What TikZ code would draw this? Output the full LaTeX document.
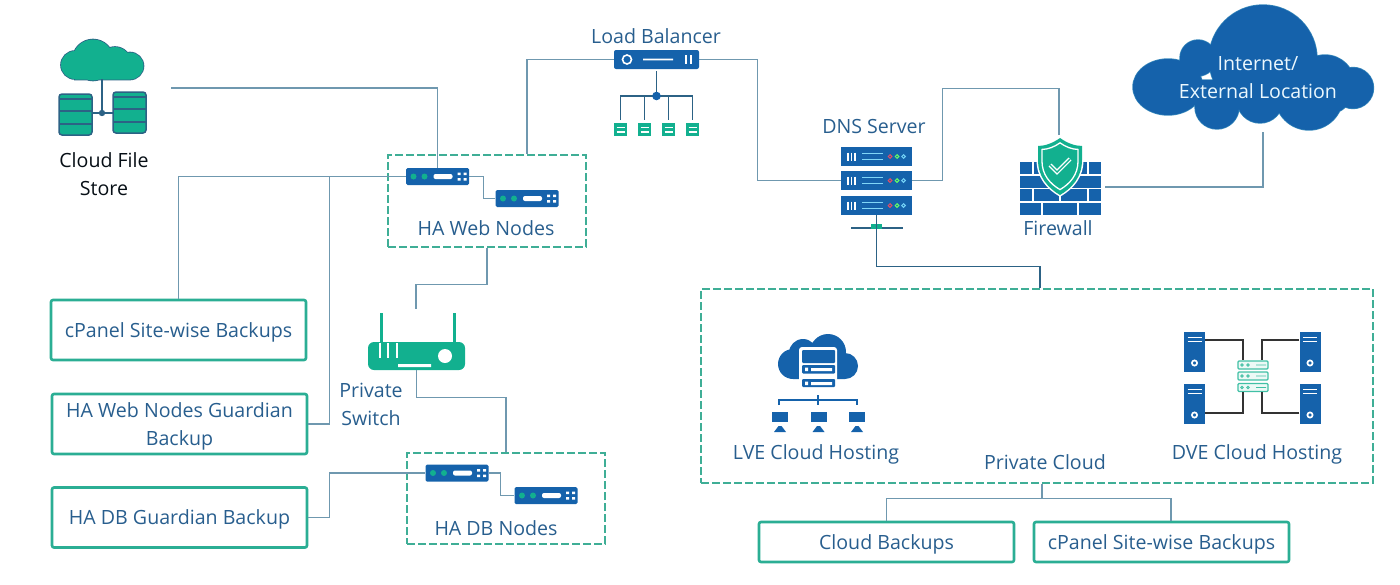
\documentclass[tikz,border=0pt]{standalone}
\usepackage{fontspec}
\setmainfont{Open Sans}
\definecolor{iconblue}{HTML}{1562AB}
\definecolor{icongreen}{HTML}{12B08F}
\definecolor{boxgreen}{HTML}{2BAE94}
\definecolor{dashgreen}{HTML}{3FAE96}
\definecolor{linkgrey}{HTML}{6F98AF}
\definecolor{linkdark}{HTML}{2C6285}
\definecolor{labelblue}{HTML}{285E8E}
\tikzset{
  lbl/.style = {text = labelblue, font = \fontsize{19.6}{28}\selectfont, align = center, inner sep = 0pt},
  link/.style = {draw = linkgrey, line width = 1.2pt},
  darklink/.style = {draw = linkdark, line width = 1.2pt},
  dashbox/.style = {draw = dashgreen, line width = 1.6pt, dash pattern = on 8pt off 3pt, inner sep = 0pt},
  greenbox/.style = {lbl, draw = boxgreen, line width = 2.6pt, rounded corners = 2pt, minimum height = 60pt, text depth = 0pt},
  rackbody/.style = {fill = iconblue, rounded corners = 1.5pt, minimum width = 63pt, minimum height = 17pt, inner sep = 0pt},
  dnsbody/.style = {fill = iconblue, minimum width = 71pt, minimum height = 19pt, inner sep = 0pt},
  tower/.style = {fill = iconblue, minimum width = 21pt, minimum height = 40pt, inner sep = 0pt},
}
\begin{document}
\begin{tikzpicture}[x = 1pt, y = -1pt]
  \useasboundingbox (0,0) rectangle (1400,584);

  % file store
  \def\filecloud{(93,60) circle (20.5) (75,65) circle (14) (130,66) circle (13.5) (115,63) circle (16) (130,60) rectangle (75,79.5)}
  \draw[linkdark, line width = 1.6pt] \filecloud;
  \fill[icongreen] \filecloud;
  \draw[linkdark, line width = 1.6pt] (102,79) -- (102,113) (92,113) -- (113,113);
  \fill[linkdark] (102,113) circle (3.2);
  \foreach \x/\y in {59/94, 113/92} {
    \fill[icongreen, draw = linkdark, line width = 1.5pt, rounded corners = 3pt] (\x,\y) rectangle (\x+33,\y+41);
    \draw[linkdark, line width = 2.4pt] (\x,\y+5) -- (\x+33,\y+5) (\x,\y+17) -- (\x+33,\y+17) (\x,\y+30) -- (\x+33,\y+30);
  }
  \node[lbl, text = black!85!labelblue] (filestore) at (104,174) {Cloud File\\Store};
  \coordinate (filestoreout) at (171,88);

  % boxes
  \node[dashbox, minimum width = 198pt, minimum height = 92pt] (webbox) at (487,201) {};
  \node[dashbox, minimum width = 198pt, minimum height = 91pt] (dbbox) at (506,498.5) {};
  \node[dashbox, minimum width = 672pt, minimum height = 194pt] (cloudbox) at (1037,386) {};
  \node[lbl] (weblabel) at (486,228) {HA Web Nodes};
  \node[lbl] (dblabel) at (496,528) {HA DB Nodes};
  \node[lbl] (cloudlabel) at (1045,462) {Private Cloud};

  \node[greenbox, minimum width = 255pt] (sitewise) at (178.5,330) {cPanel Site-wise Backups};
  \node[greenbox, minimum width = 255pt] (webguard) at (179.5,424) {HA Web Nodes Guardian\\Backup};
  \node[greenbox, minimum width = 255pt] (dbguard) at (179.5,517.5) {HA DB Guardian Backup};
  \node[greenbox, minimum width = 255pt, minimum height = 40pt] (cloudbak) at (886.5,542) {Cloud Backups};
  \node[greenbox, minimum width = 255pt, minimum height = 40pt] (sitewisetwo) at (1161.5,542) {cPanel Site-wise Backups};

  % ha nodes
  \foreach \name/\x/\y in {web1/437.5/176.5, web2/527/198.5, db1/457/473, db2/546/495.5} {
    \node[rackbody] (\name) at (\x,\y) {};
    \fill[icongreen] (\x-24,\y) circle (3) (\x-13,\y) circle (3);
    \fill[white, rounded corners = 2pt] (\x-4,\y-2.5) rectangle (\x+15,\y+2.5);
    \fill[white] (\x+20,\y-4) rectangle (\x+23,\y-1.5) (\x+26,\y-4) rectangle (\x+29,\y-1.5)
                 (\x+20,\y+1.5) rectangle (\x+23,\y+4) (\x+26,\y+1.5) rectangle (\x+29,\y+4);
  }

  % load balancer
  \node[lbl] (lblabel) at (656,36) {Load Balancer};
  \node[fill = iconblue, rounded corners = 2pt, minimum width = 85pt, minimum height = 19pt, inner sep = 0pt] (lb) at (656.5,59.5) {};
  \draw[white, line width = 1.6pt] (627,59.5) circle (4.5) (643,59.5) -- (673,59.5);
  \draw[white, line width = 1.8pt] (686,55) -- (686,64) (691,55) -- (691,64);
  \draw[linkdark, line width = 1.5pt] (656.5,71) -- (656.5,96) (620.5,120) -- (620.5,96) -- (692.5,96) -- (692.5,120)
    (644.5,96) -- (644.5,120) (668.5,96) -- (668.5,120);
  \fill[iconblue] (656.5,96) circle (4.3);
  \foreach \x in {620.5, 644.5, 668.5, 692.5} {
    \fill[icongreen] (\x-6.5,123) rectangle (\x+6.5,136);
    \draw[white, line width = 1.5pt] (\x-4,127.5) -- (\x+4,127.5) (\x-4,132) -- (\x+4,132);
  }

  % dns
  \node[lbl] (dnslabel) at (874,126) {DNS Server};
  \foreach \name/\y in {dns1/156.5, dns2/180.5, dns3/205.5} {
    \node[dnsbody] (\name) at (876.5,\y) {};
    \draw[white, line width = 1.2pt] (848,\y-4) -- (848,\y+4) (851.5,\y-4) -- (851.5,\y+4) (855,\y-4) -- (855,\y+4);
    \draw[cyan!50, line width = 1pt] (862,\y-3) -- (883,\y-3) (862,\y+3) -- (883,\y+3);
    \draw[red!50!purple!70, line width = 1pt] (890,\y) circle (1.8);
    \draw[green!60!white, line width = 1pt] (897,\y) circle (1.8);
    \draw[cyan!55, line width = 1pt] (903.5,\y) circle (1.8);
  }
  \draw[linkdark, line width = 1.3pt] (851,228) -- (903,228);
  \node[fill = icongreen, minimum width = 11pt, minimum height = 5pt, inner sep = 0pt] (dnstap) at (876.5,226.5) {};

  % firewall
  \fill[iconblue] (1020,162) rectangle (1101,215);
  \draw[white, line width = 1.4pt] (1020,175) -- (1101,175) (1020,188.5) -- (1101,188.5) (1020,202) -- (1101,202)
    (1033,162) -- (1033,175) (1088,162) -- (1088,175) (1033,188.5) -- (1033,202) (1060,188.5) -- (1060,202) (1088,188.5) -- (1088,202)
    (1042,202) -- (1042,215) (1078,202) -- (1078,215);
  \def\shieldpath{(1060,138) .. controls (1067,143) and (1075,146) .. (1082,146) -- (1082,160) .. controls (1082,177) and (1072,188) .. (1060,195)
    .. controls (1048,188) and (1038,177) .. (1038,160) -- (1038,146) .. controls (1045,146) and (1053,143) .. (1060,138) -- cycle}
  \draw[white, line width = 3pt] \shieldpath;
  \fill[icongreen] \shieldpath;
  \begin{scope}[shift = {(1060,165)}, scale = .82, shift = {(-1060,-165)}]
    \draw[white, line width = 1.3pt] \shieldpath;
  \end{scope}
  \draw[white, line width = 4pt] (1050,165) -- (1057,172) -- (1070,159);
  \draw[icongreen, line width = 1.4pt] (1050,165) -- (1057,172) -- (1070,159);
  \node[lbl] (firewall) at (1058,228) {Firewall};
  \coordinate (shieldtop) at (1059,135);
  \coordinate (wallout) at (1105,187);

  % internet
  \def\netcloud{(1263,59) circle (54) (1198,58) circle (18) (1325,85) circle (30) (1353,88) circle (20.5) (1217,107) circle (22)
    (1260,100) circle (23) (1309,96) circle (34) (1168,87) ellipse (35 and 28) (1340,80) rectangle (1168,105)}
  \draw[cyan!40!iconblue, line width = 1.4pt] \netcloud;
  \fill[iconblue] \netcloud;
  \node[lbl, text = cyan!8!white] (internet) at (1258,78) {Internet/\\External Location};
  \coordinate (cloudout) at (1263,132);

  % switch
  \node[fill = icongreen, rounded corners = 6pt, minimum width = 97pt, minimum height = 28pt, inner sep = 0pt] (switch) at (416.5,356) {};
  \draw[icongreen, line width = 3pt] (381,313) -- (381,343) (454,313) -- (454,343);
  \draw[white, line width = 2pt] (380,343) -- (380,358) (388,343) -- (388,358) (397,343) -- (397,358);
  \fill[white] (445,356) circle (7) (398,364) rectangle (431,367);
  \node[lbl] (switchlabel) at (371,404) {Private\\Switch};
  \coordinate (switchin) at (416,309);

  % lve
  \fill[iconblue] (793,364) circle (15) (803,353) circle (14) (828,352) circle (18) (845,366) circle (13) (845,360) rectangle (793,379);
  \fill[white, rounded corners = 3pt] (799,347) rectangle (837,389);
  \fill[iconblue, rounded corners = 1pt] (802,350) rectangle (835,363) (802,365) rectangle (835,373.5) (802,379) rectangle (835,387);
  \fill[white] (805,367.5) rectangle (808,371) (805,381.5) rectangle (808,385);
  \fill[white] (811,368) rectangle (832,371) (811,382) rectangle (832,385);
  \draw[iconblue, line width = 1.8pt] (779,405) -- (779,400) -- (857,400) -- (857,405) (818,395) -- (818,405);
  \foreach \x in {780, 818.5, 857} {
    \fill[iconblue] (\x-8,412) rectangle (\x+8,422);
    \fill[iconblue] (\x-6,432) -- (\x-1.5,426) -- (\x+1.5,426) -- (\x+6,432) -- cycle;
  }
  \node[lbl] (lve) at (816,454) {LVE Cloud Hosting};

  % dve
  \foreach \name/\x/\y in {towera/1194.5/352, towerb/1194.5/404, towerc/1310/352, towerd/1310/404} {
    \node[tower] (\name) at (\x,\y) {};
    \draw[white, line width = 1.7pt] (\x-7,\y-14.5) -- (\x+7,\y-14.5) (\x-7,\y-10.5) -- (\x+7,\y-10.5);
    \draw[white, line width = 1.7pt] (\x,\y+11) circle (2.6);
  }
  \foreach \name/\y in {hubone/365, hubtwo/376, hubthree/387.5} {
    \node[draw = icongreen!80, fill = icongreen!8, line width = 1.2pt, rounded corners = 1pt, minimum width = 30pt, minimum height = 8pt, inner sep = 0pt] (\name) at (1253,\y) {};
    \draw[icongreen!80, line width = .9pt] (1242,\y) circle (1.2) (1248,\y) circle (1.2) (1256,\y) -- (1266,\y);
  }
  \draw[black!80, line width = 1.1pt] (towera.east |- 0,340) -| ([xshift = -10pt]hubone.north)
    (towerb.east |- 0,413) -| ([xshift = -10pt]hubthree.south)
    (towerc.west |- 0,340) -| ([xshift = 9pt]hubone.north)
    (towerd.west |- 0,413) -| ([xshift = 9pt]hubthree.south);
  \node[lbl] (dve) at (1257,454) {DVE Cloud Hosting};

  % connectors
  \draw[link] (filestoreout) -| (web1.north);
  \draw[link] (web1.west) -| (sitewise.north);
  \draw[link] (webguard.east) -- ++(21,0) |- (web1.west);
  \draw[link] (web1.east) -- ++(14,0) |- (web2.west);
  \draw[link] (lb.west) -| ([xshift = 40pt]webbox.north);
  \draw[link] (lb.east) -- ++(58,0) |- (dns2.west);
  \draw[link] (dns2.east) -- ++(30,0) -- ++(0,-92) -| (shieldtop);
  \draw[link] (wallout) -| (cloudout);
  \draw[link] (webbox.south) -- ++(0,37) -| (switchin);
  \draw[link] (switch.south) -- ++(0,27) -| (dbbox.north);
  \draw[link] (dbguard.east) -- ++(21,0) |- (db1.west);
  \draw[link] (db1.east) -- ++(12,0) |- (db2.west);
  \draw[darklink] (dns3.south) -- ++(0,51) -| ([xshift = 3pt]cloudbox.north);
  \draw[link] ([xshift = 5pt]cloudbox.south) -- ++(0,15) -| (cloudbak.north);
  \draw[link] ([xshift = 5pt]cloudbox.south) -- ++(0,15) -| ([xshift = 9.5pt]sitewisetwo.north);
\end{tikzpicture}
\end{document}
